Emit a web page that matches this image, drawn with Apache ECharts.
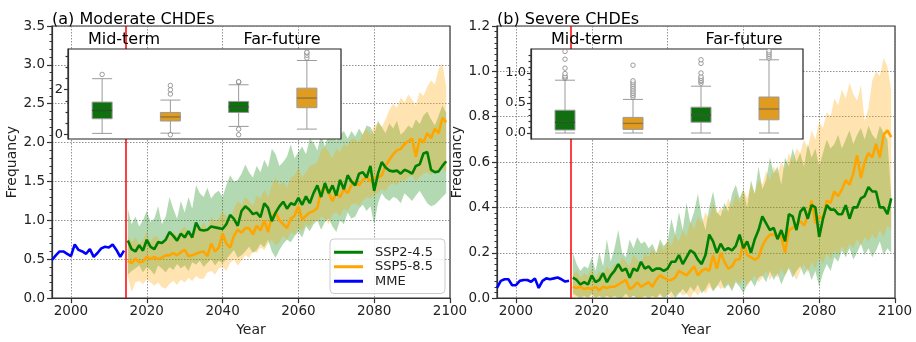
<!DOCTYPE html>
<html>
<head>
<meta charset="utf-8">
<script src="https://cdn.jsdelivr.net/npm/echarts@6/dist/echarts.min.js"></script>
<style>
html, body { margin: 0; padding: 0; background: #fff; }
#chart { width: 916px; height: 342px; }
</style>
</head>
<body>
<div id="chart"></div>
<script>
// ---- data ----
var histStart = 1995;   // MME, 1995-2014
var futStart = 2015;    // scenarios, 2015-2099
var xTickYears = [2000, 2020, 2040, 2060, 2080, 2100];
var insetCats = ['Mid SSP2-4.5', 'Mid SSP5-8.5', 'Far SSP2-4.5', 'Far SSP5-8.5'];

// (a) Moderate CHDEs
var mmeA = [0.49, 0.55, 0.60, 0.60, 0.57, 0.54, 0.69, 0.62, 0.60, 0.57, 0.63, 0.53, 0.58, 0.64, 0.66, 0.65, 0.69, 0.62, 0.53, 0.61];
var ssp245A = [
  0.74, 0.63, 0.60, 0.68, 0.61, 0.75, 0.66, 0.63, 0.72, 0.71,
  0.75, 0.85, 0.80, 0.74, 0.83, 0.78, 0.86, 0.78, 0.97, 0.88,
  0.87, 0.88, 0.92, 0.91, 0.90, 0.89, 0.95, 1.07, 1.02, 0.93,
  1.12, 1.18, 1.14, 1.08, 1.10, 1.04, 1.22, 1.16, 0.99, 1.10,
  1.18, 1.24, 1.15, 1.22, 1.20, 1.29, 1.20, 1.31, 1.22, 1.35,
  1.45, 1.30, 1.48, 1.35, 1.45, 1.32, 1.52, 1.40, 1.58, 1.50,
  1.45, 1.60, 1.62, 1.55, 1.70, 1.38, 1.60, 1.75, 1.68, 1.64,
  1.63, 1.64, 1.60, 1.65, 1.63, 1.60, 1.70, 1.72, 1.86, 1.88,
  1.65, 1.62, 1.63, 1.70, 1.76
];
var ssp245ALo = [
  0.30, 0.35, 0.38, 0.42, 0.33, 0.40, 0.36, 0.30, 0.42, 0.38,
  0.33, 0.40, 0.36, 0.44, 0.38, 0.42, 0.35, 0.46, 0.43, 0.48,
  0.40, 0.45, 0.50, 0.42, 0.48, 0.45, 0.50, 0.56, 0.62, 0.52,
  0.55, 0.60, 0.66, 0.58, 0.62, 0.70, 0.65, 0.75, 0.60, 0.52,
  0.62, 0.70, 0.75, 0.72, 0.80, 0.85, 0.78, 0.92, 0.86, 0.95,
  1.00, 0.88, 0.98, 1.02, 0.92, 0.85, 1.00, 0.95, 1.10, 1.02,
  1.05, 1.15, 1.20, 1.12, 1.18, 0.95, 1.22, 1.35, 1.28, 1.25,
  1.30, 1.28, 1.22, 1.35, 1.30, 1.25, 1.32, 1.38, 1.30, 1.22,
  1.18, 1.20, 1.25, 1.30, 1.35
];
var ssp245AHi = [
  1.15, 0.95, 1.05, 0.92, 1.00, 1.12, 0.98, 1.02, 1.18, 0.95,
  1.05, 1.30, 1.15, 1.02, 1.25, 1.10, 1.30, 1.15, 1.45, 1.35,
  1.30, 1.42, 1.28, 1.35, 1.38, 1.30, 1.45, 1.58, 1.50, 1.52,
  1.60, 1.72, 1.62, 1.55, 1.70, 1.62, 1.78, 1.68, 1.92, 1.85,
  1.70, 1.75, 1.82, 1.98, 1.80, 1.88, 1.95, 1.85, 2.05, 2.00,
  1.90, 2.10, 1.95, 2.12, 2.20, 2.02, 2.10, 2.15, 2.05, 2.15,
  2.08, 2.18, 2.10, 2.22, 2.20, 2.10, 2.28, 2.20, 2.12, 2.25,
  2.18, 2.28, 2.10, 2.15, 2.22, 2.18, 2.30, 2.24, 2.35, 2.40,
  2.30, 2.22, 2.35, 2.48, 2.38
];
var ssp585A = [
  0.48, 0.45, 0.51, 0.46, 0.47, 0.53, 0.50, 0.53, 0.50, 0.52,
  0.55, 0.55, 0.58, 0.55, 0.59, 0.62, 0.54, 0.55, 0.57, 0.59,
  0.60, 0.54, 0.70, 0.60, 0.65, 0.83, 0.70, 0.65, 0.80, 0.88,
  0.84, 0.90, 0.90, 0.82, 0.93, 0.87, 1.00, 0.85, 1.05, 1.10,
  1.00, 0.95, 0.90, 1.02, 1.06, 1.18, 1.01, 1.06, 1.10, 1.12,
  1.16, 1.38, 1.42, 1.35, 1.25, 1.35, 1.30, 1.40, 1.35, 1.45,
  1.50, 1.45, 1.52, 1.56, 1.50, 1.56, 1.55, 1.58, 1.70, 1.78,
  1.85, 1.90, 1.92, 1.98, 2.02, 2.05, 1.82, 2.05, 2.00, 2.12,
  2.06, 2.18, 2.12, 2.32, 2.26
];
var ssp585ALo = [
  0.28, 0.08, 0.20, 0.22, 0.18, 0.24, 0.20, 0.16, 0.20, 0.14,
  0.12, 0.18, 0.22, 0.17, 0.24, 0.20, 0.26, 0.22, 0.28, 0.25,
  0.25, 0.33, 0.35, 0.30, 0.38, 0.40, 0.35, 0.45, 0.50, 0.42,
  0.48, 0.55, 0.52, 0.60, 0.58, 0.65, 0.62, 0.70, 0.75, 0.68,
  0.72, 0.80, 0.75, 0.85, 0.82, 0.90, 0.86, 0.95, 0.92, 1.00,
  0.98, 1.05, 1.02, 0.95, 1.08, 1.10, 1.05, 1.15, 1.12, 1.20,
  1.22, 1.18, 1.25, 1.30, 1.28, 1.32, 1.35, 1.40, 1.38, 1.45,
  1.48, 1.45, 1.52, 1.50, 1.55, 1.58, 1.50, 1.56, 1.60, 1.62,
  1.58, 1.65, 1.60, 1.68, 1.62
];
var ssp585AHi = [
  0.80, 0.72, 0.78, 0.70, 0.75, 0.85, 0.72, 0.80, 0.78, 0.70,
  0.82, 0.78, 0.86, 0.80, 0.88, 0.92, 0.85, 0.82, 0.95, 0.90,
  0.98, 0.88, 1.05, 0.98, 1.02, 1.12, 1.05, 1.00, 1.15, 1.25,
  1.20, 1.30, 1.25, 1.18, 1.32, 1.28, 1.40, 1.30, 1.45, 1.55,
  1.45, 1.50, 1.42, 1.55, 1.58, 1.68, 1.55, 1.62, 1.70, 1.72,
  1.75, 1.90, 1.95, 1.88, 1.80, 1.92, 1.88, 1.98, 1.95, 2.05,
  2.05, 2.00, 2.12, 2.18, 2.10, 2.22, 2.25, 2.20, 2.30, 2.42,
  2.50, 2.45, 2.58, 2.52, 2.62, 2.55, 2.48, 2.65, 2.60, 2.72,
  2.80, 2.75, 2.95, 3.02, 2.72
];
// inset (a): whisker low, Q1, median, Q3, whisker high
var boxA = [
  [0.06, 0.71, 1.08, 1.45, 2.49],
  [0.07, 0.61, 0.79, 0.99, 1.54],
  [0.37, 0.99, 1.24, 1.48, 2.22],
  [0.25, 1.20, 1.63, 2.07, 3.30]
];
var fliersA = [
  [0, 2.68],
  [1, 1.81], [1, 2.00], [1, 2.19], [1, 0.00],
  [2, 2.33], [2, 2.36], [2, 0.25], [2, 0.00],
  [3, 3.41], [3, 3.53], [3, 3.63], [3, 3.67]
];

// (b) Severe CHDEs
var mmeB = [0.045, 0.076, 0.083, 0.083, 0.057, 0.057, 0.076, 0.080, 0.080, 0.072, 0.087, 0.045, 0.076, 0.087, 0.083, 0.087, 0.091, 0.083, 0.073, 0.077];
var ssp245B = [
  0.09, 0.08, 0.06, 0.07, 0.06, 0.10, 0.07, 0.08, 0.11, 0.07,
  0.10, 0.12, 0.15, 0.12, 0.13, 0.09, 0.13, 0.12, 0.16, 0.13,
  0.14, 0.12, 0.13, 0.13, 0.12, 0.13, 0.16, 0.16, 0.19, 0.15,
  0.18, 0.21, 0.20, 0.17, 0.15, 0.19, 0.28, 0.25, 0.20, 0.24,
  0.21, 0.22, 0.21, 0.23, 0.28, 0.22, 0.25, 0.20, 0.26, 0.30,
  0.36, 0.33, 0.30, 0.31, 0.26, 0.30, 0.25, 0.37, 0.36, 0.30,
  0.38, 0.40, 0.35, 0.41, 0.40, 0.27, 0.35, 0.41, 0.39, 0.39,
  0.37, 0.37, 0.41, 0.35, 0.40, 0.40, 0.44, 0.45, 0.49, 0.47,
  0.47, 0.40, 0.40, 0.37, 0.44
];
var ssp245BLo = [
  0.02, 0.01, 0.00, 0.01, 0.00, 0.02, 0.00, 0.01, 0.00, 0.01,
  0.00, 0.01, 0.00, 0.00, 0.02, 0.00, 0.01, 0.00, 0.00, 0.01,
  0.00, 0.01, 0.00, 0.02, 0.00, 0.01, 0.03, 0.00, 0.02, 0.04,
  0.02, 0.05, 0.03, 0.06, 0.02, 0.04, 0.07, 0.03, 0.05, 0.08,
  0.04, 0.06, 0.03, 0.07, 0.05, 0.02, 0.06, 0.08, 0.05, 0.09,
  0.10, 0.07, 0.12, 0.08, 0.11, 0.06, 0.10, 0.13, 0.09, 0.12,
  0.14, 0.10, 0.13, 0.08, 0.12, 0.05, 0.11, 0.15, 0.12, 0.18,
  0.16, 0.21, 0.18, 0.22, 0.17, 0.20, 0.24, 0.19, 0.22, 0.18,
  0.21, 0.25, 0.19, 0.22, 0.20
];
var ssp245BHi = [
  0.20, 0.15, 0.12, 0.14, 0.13, 0.18, 0.12, 0.20, 0.14, 0.26,
  0.16, 0.22, 0.30, 0.20, 0.18, 0.26, 0.22, 0.27, 0.24, 0.25,
  0.22, 0.24, 0.20, 0.26, 0.23, 0.25, 0.35, 0.28, 0.38, 0.30,
  0.42, 0.33, 0.38, 0.46, 0.36, 0.30, 0.40, 0.47, 0.38, 0.36,
  0.42, 0.38, 0.46, 0.50, 0.44, 0.48, 0.40, 0.52, 0.46, 0.58,
  0.48, 0.52, 0.62, 0.55, 0.58, 0.50, 0.62, 0.58, 0.66, 0.60,
  0.64, 0.58, 0.68, 0.62, 0.66, 0.58, 0.64, 0.70, 0.66, 0.68,
  0.72, 0.66, 0.70, 0.74, 0.68, 0.72, 0.75, 0.70, 0.76, 0.72,
  0.70, 0.76, 0.73, 0.70, 0.45
];
var ssp585B = [
  0.050, 0.045, 0.050, 0.040, 0.045, 0.040, 0.050, 0.035, 0.050, 0.045,
  0.050, 0.050, 0.060, 0.070, 0.080, 0.040, 0.050, 0.070, 0.050, 0.060,
  0.070, 0.050, 0.080, 0.100, 0.090, 0.080, 0.080, 0.090, 0.120, 0.110,
  0.100, 0.120, 0.140, 0.100, 0.120, 0.130, 0.120, 0.190, 0.130, 0.200,
  0.160, 0.130, 0.140, 0.170, 0.170, 0.250, 0.190, 0.180, 0.170, 0.180,
  0.230, 0.260, 0.280, 0.280, 0.270, 0.270, 0.200, 0.300, 0.310, 0.320,
  0.340, 0.320, 0.360, 0.430, 0.330, 0.360, 0.350, 0.430, 0.420, 0.470,
  0.450, 0.480, 0.520, 0.500, 0.550, 0.630, 0.530, 0.600, 0.640, 0.620,
  0.680, 0.620, 0.720, 0.740, 0.710
];
var ssp585BLo = [
  0.00, 0.00, 0.01, 0.00, 0.00, 0.01, 0.00, 0.00, 0.01, 0.00,
  0.00, 0.00, 0.01, 0.00, 0.00, 0.00, 0.01, 0.00, 0.00, 0.00,
  0.01, 0.00, 0.00, 0.01, 0.00, 0.02, 0.00, 0.01, 0.03, 0.01,
  0.02, 0.00, 0.03, 0.01, 0.04, 0.02, 0.05, 0.03, 0.06, 0.04,
  0.05, 0.07, 0.04, 0.08, 0.06, 0.09, 0.05, 0.08, 0.10, 0.07,
  0.09, 0.12, 0.08, 0.11, 0.09, 0.13, 0.10, 0.14, 0.11, 0.08,
  0.12, 0.15, 0.11, 0.16, 0.13, 0.18, 0.15, 0.20, 0.17, 0.21,
  0.19, 0.23, 0.20, 0.24, 0.22, 0.26, 0.23, 0.27, 0.25, 0.28,
  0.26, 0.30, 0.27, 0.32, 0.30
];
var ssp585BHi = [
  0.10, 0.12, 0.09, 0.11, 0.10, 0.13, 0.09, 0.12, 0.10, 0.14,
  0.12, 0.15, 0.13, 0.18, 0.16, 0.14, 0.19, 0.17, 0.15, 0.20,
  0.18, 0.22, 0.19, 0.24, 0.21, 0.26, 0.23, 0.28, 0.25, 0.30,
  0.27, 0.34, 0.30, 0.36, 0.33, 0.38, 0.35, 0.42, 0.37, 0.40,
  0.38, 0.44, 0.40, 0.46, 0.42, 0.48, 0.44, 0.50, 0.46, 0.52,
  0.50, 0.56, 0.52, 0.58, 0.55, 0.60, 0.57, 0.64, 0.60, 0.66,
  0.64, 0.70, 0.66, 0.74, 0.70, 0.78, 0.75, 0.82, 0.80, 0.88,
  0.85, 0.92, 0.88, 0.95, 0.90, 0.87, 0.94, 0.78, 0.84, 0.96,
  1.00, 0.98, 1.06, 1.02, 0.92
];
var boxB = [
  [0.00, 0.05, 0.18, 0.38, 0.88],
  [0.00, 0.06, 0.16, 0.26, 0.56],
  [0.00, 0.18, 0.30, 0.43, 0.78],
  [0.00, 0.22, 0.40, 0.60, 1.22]
];
var fliersB = [
  [0, 0.91], [0, 0.93], [0, 0.95], [0, 0.99], [0, 1.08], [0, 1.23], [0, 1.36],
  [1, 0.60], [1, 0.63], [1, 0.66], [1, 0.69], [1, 0.72], [1, 0.75], [1, 0.78], [1, 0.81], [1, 0.84], [1, 0.87], [1, 1.13],
  [2, 0.83], [2, 0.86], [2, 0.88], [2, 0.91], [2, 0.94], [2, 1.00], [2, 1.16], [2, 1.22],
  [3, 1.25], [3, 1.28], [3, 1.31], [3, 1.34], [3, 1.37]
];

// ---- helpers ----
var FONT = 'DejaVu Sans';
var GREEN = '#008000', ORANGE = '#ffa500', BLUE = '#0000ff', RED = '#ff0000';
var GREEN_FILL = 'rgba(0,128,0,0.3)', ORANGE_FILL = 'rgba(255,165,0,0.3)';
var BOX_FILL = ['#107010', '#df9c20', '#107010', '#df9c20'];
var BOX_MED = ['#0b420b', '#9a6a16', '#0b420b', '#9a6a16'];

function years(start, n) {
  var out = [];
  for (var i = 0; i < n; i++) out.push(start + i);
  return out;
}
var histYears = years(histStart, mmeA.length);
var futYears = years(futStart, ssp245A.length);

function pairs(xs, vals) {
  return vals.map(function (v, i) { return [xs[i], v]; });
}

// shaded range between lo and hi, one polygon through the axis scales
function band(xi, yi, lo, hi, fill) {
  return {
    type: 'custom', xAxisIndex: xi, yAxisIndex: yi, silent: true, z: 1, clip: true,
    data: futYears.map(function (y, i) { return [y, lo[i], hi[i]]; }),
    encode: { x: 0, y: [1, 2] },
    renderItem: function (params, api) {
      if (params.dataIndex !== 0) return null;
      var pts = [], i;
      for (i = 0; i < futYears.length; i++) pts.push(api.coord([futYears[i], hi[i]]));
      for (i = futYears.length - 1; i >= 0; i--) pts.push(api.coord([futYears[i], lo[i]]));
      return { type: 'polygon', shape: { points: pts }, style: { fill: fill, stroke: null } };
    }
  };
}

function meanLine(name, xi, yi, xs, vals, color, withRed) {
  var s = { name: name, type: 'line', xAxisIndex: xi, yAxisIndex: yi, data: pairs(xs, vals),
    symbol: 'none', showSymbol: false, color: color, lineStyle: { color: color, width: 2.6 }, z: 3 };
  if (withRed) {
    s.markLine = { silent: true, symbol: ['none', 'none'], label: { show: false },
      lineStyle: { color: RED, type: 'solid', width: 1.5 }, data: [{ xAxis: 2014.5 }] };
  }
  return s;
}

function insetSeries(xi, xvi, yi, boxes, fliers) {
  return [
    { type: 'boxplot', xAxisIndex: xi, yAxisIndex: yi, boxWidth: [20, 20], z: 13,
      itemStyle: { borderColor: '#9a9a9a', borderWidth: 1 },
      data: boxes.map(function (b, i) { return { value: b, itemStyle: { color: BOX_FILL[i] } }; }) },
    { type: 'scatter', xAxisIndex: xi, yAxisIndex: yi, symbol: 'rect', symbolSize: [20, 1.4], z: 14, silent: true,
      data: boxes.map(function (b, i) { return { value: [i, b[2]], itemStyle: { color: BOX_MED[i] } }; }) },
    { type: 'scatter', xAxisIndex: xi, yAxisIndex: yi, symbol: 'circle', symbolSize: 4.5, z: 14, silent: true,
      itemStyle: { color: '#fff', borderColor: '#777', borderWidth: 0.9 }, data: fliers },
    { type: 'line', xAxisIndex: xvi, yAxisIndex: yi, data: [], z: 13, silent: true,
      markLine: { silent: true, symbol: ['none', 'none'], label: { show: false },
        lineStyle: { color: '#333', type: [4, 2], width: 1.1 }, data: [{ xAxis: 2 }] } }
  ];
}

var axisLineStyle = { color: '#333', width: 1.2 };
var gridLineStyle = { color: '#777', type: [1.5, 1.5], width: 0.8 };
var labelStyle = { fontFamily: FONT, fontSize: 13.5, color: '#222' };

function mainX(gi) {
  return { type: 'value', gridIndex: gi, min: 1995, max: 2100, splitNumber: 5,
    axisLine: { show: true, lineStyle: axisLineStyle },
    axisTick: { show: true, customValues: xTickYears, length: 5, lineStyle: axisLineStyle },
    axisLabel: Object.assign({ customValues: xTickYears, margin: 6,
      formatter: function (v) { return String(v); } }, labelStyle),
    splitLine: { show: true, lineStyle: gridLineStyle },
    name: 'Year', nameLocation: 'middle', nameGap: 21,
    nameTextStyle: { fontFamily: FONT, fontSize: 14, color: '#222' } };
}
function mainY(gi, max, step, minorSplit) {
  return { type: 'value', gridIndex: gi, min: 0, max: max, interval: step,
    axisLine: { show: true, lineStyle: axisLineStyle },
    axisTick: { show: true, length: 5, lineStyle: axisLineStyle },
    minorTick: { show: true, splitNumber: minorSplit, length: 2.5, lineStyle: { color: '#333', width: 1 } },
    axisLabel: Object.assign({ margin: 7, formatter: function (v) { return v.toFixed(1); } }, labelStyle),
    splitLine: { show: true, lineStyle: gridLineStyle },
    name: 'Frequancy', nameLocation: 'middle', nameGap: 31,
    nameTextStyle: { fontFamily: FONT, fontSize: 14, color: '#222' } };
}
function insetX(gi) {
  return { type: 'category', gridIndex: gi, data: insetCats, z: 12,
    axisLine: { show: false }, axisTick: { show: false }, axisLabel: { show: false }, splitLine: { show: false } };
}
function insetXv(gi) {
  return { type: 'value', gridIndex: gi, min: 0, max: 4, show: false };
}
function insetY(gi, min, max, labels, digits) {
  return { type: 'value', gridIndex: gi, min: min, max: max, z: 12,
    axisLine: { show: true, lineStyle: axisLineStyle },
    axisTick: { show: true, customValues: labels, length: 4, lineStyle: axisLineStyle },
    axisLabel: Object.assign({ customValues: labels, margin: 5,
      formatter: function (v) { return v.toFixed(digits); } }, labelStyle, { fontSize: 13 }),
    splitLine: { show: false } };
}
function insetYMinor(gi, min, max, ticks) {
  return { type: 'value', gridIndex: gi, min: min, max: max, position: 'left', offset: 0, z: 12,
    axisLine: { show: false }, axisLabel: { show: false }, splitLine: { show: false },
    axisTick: { show: true, customValues: ticks, length: 2.5, lineStyle: axisLineStyle } };
}

function txt(x, y, s, size) {
  return { type: 'text', x: x, y: y, z: 20, silent: true,
    style: { text: s, fontFamily: FONT, fontSize: size, fill: '#000', align: 'left', verticalAlign: 'middle' } };
}
function ctxt(x, y, s, size) {
  var t = txt(x, y, s, size);
  t.style.align = 'center';
  return t;
}

var option = {
  animation: false,
  backgroundColor: '#fff',
  grid: [
    { left: 52, top: 26, width: 398, height: 280, show: true, borderColor: '#333', borderWidth: 1.2 },
    { left: 68, top: 49, width: 273, height: 90, show: true, borderColor: '#222', borderWidth: 1.2, backgroundColor: '#fff', z: 10 },
    { left: 497, top: 26, width: 398, height: 280, show: true, borderColor: '#333', borderWidth: 1.2 },
    { left: 531, top: 49, width: 272, height: 90, show: true, borderColor: '#222', borderWidth: 1.2, backgroundColor: '#fff', z: 10 }
  ],
  xAxis: [mainX(0), insetX(1), insetXv(1), mainX(2), insetX(3), insetXv(3)],
  yAxis: [
    mainY(0, 3.5, 0.5, 5),
    insetY(1, -0.19, 3.81, [0, 2], 0),
    insetYMinor(1, -0.19, 3.81, [0.5, 1, 1.5, 2.5, 3, 3.5]),
    mainY(2, 1.2, 0.2, 8),
    insetY(3, -0.1, 1.4, [0, 0.5, 1], 1),
    insetYMinor(3, -0.1, 1.4, [0.1, 0.2, 0.3, 0.4, 0.6, 0.7, 0.8, 0.9, 1.1, 1.2, 1.3])
  ],
  legend: {
    data: ['SSP2-4.5', 'SSP5-8.5', 'MME'],
    left: 330, top: 239, orient: 'vertical',
    icon: 'rect', itemWidth: 29, itemHeight: 3, itemGap: 0,
    padding: [6, 12, 5, 4],
    backgroundColor: 'rgba(255,255,255,0.85)', borderColor: '#cccccc', borderWidth: 1, borderRadius: 4,
    textStyle: { fontFamily: FONT, fontSize: 13, color: '#222', lineHeight: 14.5, padding: [0, 0, 0, 7] },
    selectedMode: false
  },
  graphic: [
    txt(52, 19.5, '(a) Moderate CHDEs', 16),
    txt(497, 19.5, '(b) Severe CHDEs', 16),
    ctxt(124, 39.5, 'Mid-term', 16),
    ctxt(282, 39.5, 'Far-future', 16),
    ctxt(587, 39.5, 'Mid-term', 16),
    ctxt(744, 39.5, 'Far-future', 16)
  ],
  series: [].concat(
    [band(0, 0, ssp245ALo, ssp245AHi, GREEN_FILL),
     band(0, 0, ssp585ALo, ssp585AHi, ORANGE_FILL),
     meanLine('MME', 0, 0, histYears, mmeA, BLUE, true),
     meanLine('SSP5-8.5', 0, 0, futYears, ssp585A, ORANGE),
     meanLine('SSP2-4.5', 0, 0, futYears, ssp245A, GREEN)],
    insetSeries(1, 2, 1, boxA, fliersA),
    [band(3, 3, ssp245BLo, ssp245BHi, GREEN_FILL),
     band(3, 3, ssp585BLo, ssp585BHi, ORANGE_FILL),
     meanLine('MME', 3, 3, histYears, mmeB, BLUE, true),
     meanLine('SSP5-8.5', 3, 3, futYears, ssp585B, ORANGE),
     meanLine('SSP2-4.5', 3, 3, futYears, ssp245B, GREEN)],
    insetSeries(4, 5, 4, boxB, fliersB)
  )
};

var chart = echarts.init(document.getElementById('chart'), null, { renderer: 'canvas' });
chart.setOption(option);
</script>
</body>
</html>
